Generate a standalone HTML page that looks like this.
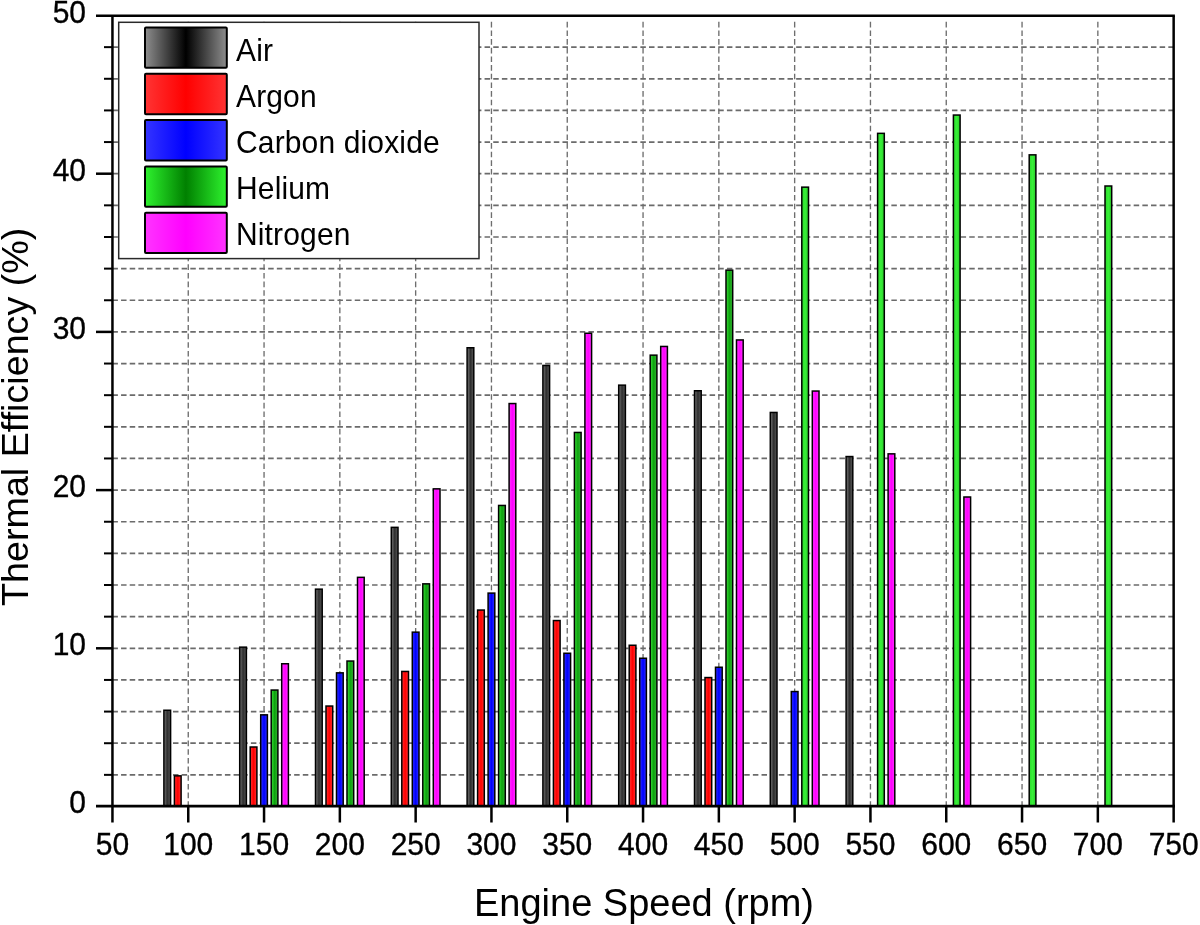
<!DOCTYPE html>
<html><head><meta charset="utf-8"><style>
html,body{margin:0;padding:0;background:#fff;}
body{width:1200px;height:925px;overflow:hidden;}
svg{display:block;will-change:transform;}
text{font-family:"Liberation Sans",sans-serif;fill:#000;}
</style></head><body>
<svg width="1200" height="925" viewBox="0 0 1200 925">
<defs>
<linearGradient id="gair" x1="0" y1="0" x2="1" y2="0"><stop offset="0" stop-color="#8e8e8e"/><stop offset="0.5" stop-color="#000000"/><stop offset="1" stop-color="#8e8e8e"/></linearGradient>
<linearGradient id="gar" x1="0" y1="0" x2="1" y2="0"><stop offset="0" stop-color="#ff3434"/><stop offset="0.5" stop-color="#ff0000"/><stop offset="1" stop-color="#ff3434"/></linearGradient>
<linearGradient id="gco2" x1="0" y1="0" x2="1" y2="0"><stop offset="0" stop-color="#3434ff"/><stop offset="0.5" stop-color="#0000ff"/><stop offset="1" stop-color="#3434ff"/></linearGradient>
<linearGradient id="ghe" x1="0" y1="0" x2="1" y2="0"><stop offset="0" stop-color="#2ef22e"/><stop offset="0.5" stop-color="#008000"/><stop offset="1" stop-color="#2ef22e"/></linearGradient>
<linearGradient id="gn2" x1="0" y1="0" x2="1" y2="0"><stop offset="0" stop-color="#ff34ff"/><stop offset="0.5" stop-color="#ff00ff"/><stop offset="1" stop-color="#ff34ff"/></linearGradient>
<linearGradient id="ghe2" x1="0" y1="0" x2="1" y2="0"><stop offset="0" stop-color="#2cd82c"/><stop offset="0.5" stop-color="#38f038"/><stop offset="1" stop-color="#2ac82a"/></linearGradient>
<linearGradient id="ghe1" x1="0" y1="0" x2="1" y2="0"><stop offset="0" stop-color="#3ce03c"/><stop offset="0.5" stop-color="#0ea40e"/><stop offset="1" stop-color="#36b036"/></linearGradient>
<linearGradient id="gairb" x1="0" y1="0" x2="1" y2="0"><stop offset="0" stop-color="#7a7a7a"/><stop offset="0.5" stop-color="#2e2e2e"/><stop offset="1" stop-color="#5a5a5a"/></linearGradient>
</defs>
<rect x="0" y="0" width="1200" height="925" fill="#fff"/>
<g stroke="#6b6b6b" stroke-width="1.7" stroke-dasharray="5.5 3.155" fill="none"><line x1="112.4" y1="774.86" x2="1173.65" y2="774.86"/><line x1="112.4" y1="743.22" x2="1173.65" y2="743.22"/><line x1="112.4" y1="711.58" x2="1173.65" y2="711.58"/><line x1="112.4" y1="679.94" x2="1173.65" y2="679.94"/><line x1="112.4" y1="648.30" x2="1173.65" y2="648.30"/><line x1="112.4" y1="616.66" x2="1173.65" y2="616.66"/><line x1="112.4" y1="585.02" x2="1173.65" y2="585.02"/><line x1="112.4" y1="553.38" x2="1173.65" y2="553.38"/><line x1="112.4" y1="521.74" x2="1173.65" y2="521.74"/><line x1="112.4" y1="490.10" x2="1173.65" y2="490.10"/><line x1="112.4" y1="458.46" x2="1173.65" y2="458.46"/><line x1="112.4" y1="426.82" x2="1173.65" y2="426.82"/><line x1="112.4" y1="395.18" x2="1173.65" y2="395.18"/><line x1="112.4" y1="363.54" x2="1173.65" y2="363.54"/><line x1="112.4" y1="331.90" x2="1173.65" y2="331.90"/><line x1="112.4" y1="300.26" x2="1173.65" y2="300.26"/><line x1="112.4" y1="268.62" x2="1173.65" y2="268.62"/><line x1="112.4" y1="236.98" x2="1173.65" y2="236.98"/><line x1="112.4" y1="205.34" x2="1173.65" y2="205.34"/><line x1="112.4" y1="173.70" x2="1173.65" y2="173.70"/><line x1="112.4" y1="142.06" x2="1173.65" y2="142.06"/><line x1="112.4" y1="110.42" x2="1173.65" y2="110.42"/><line x1="112.4" y1="78.78" x2="1173.65" y2="78.78"/><line x1="112.4" y1="47.14" x2="1173.65" y2="47.14"/></g>
<g stroke="#6e6e6e" stroke-width="1.35" stroke-dasharray="5.6 3.06" fill="none"><line x1="188.25" y1="21.8" x2="188.25" y2="806.00"/><line x1="264.05" y1="21.8" x2="264.05" y2="806.00"/><line x1="339.85" y1="21.8" x2="339.85" y2="806.00"/><line x1="415.65" y1="21.8" x2="415.65" y2="806.00"/><line x1="491.45" y1="21.8" x2="491.45" y2="806.00"/><line x1="567.25" y1="21.8" x2="567.25" y2="806.00"/><line x1="643.05" y1="21.8" x2="643.05" y2="806.00"/><line x1="718.85" y1="21.8" x2="718.85" y2="806.00"/><line x1="794.65" y1="21.8" x2="794.65" y2="806.00"/><line x1="870.45" y1="21.8" x2="870.45" y2="806.00"/><line x1="946.25" y1="21.8" x2="946.25" y2="806.00"/><line x1="1022.05" y1="21.8" x2="1022.05" y2="806.00"/><line x1="1097.85" y1="21.8" x2="1097.85" y2="806.00"/></g>
<g stroke="#000" stroke-width="1.5"><rect x="163.90" y="710.25" width="6.70" height="95.75" fill="url(#gairb)"/><rect x="174.40" y="775.85" width="6.70" height="30.15" fill="url(#gar)"/><rect x="239.70" y="647.15" width="6.70" height="158.85" fill="url(#gairb)"/><rect x="250.20" y="747.00" width="6.70" height="59.00" fill="url(#gar)"/><rect x="260.70" y="714.85" width="6.70" height="91.15" fill="url(#gco2)"/><rect x="271.20" y="690.05" width="6.70" height="115.95" fill="url(#ghe1)"/><rect x="281.70" y="663.75" width="6.70" height="142.25" fill="url(#gn2)"/><rect x="315.50" y="589.15" width="6.70" height="216.85" fill="url(#gairb)"/><rect x="326.00" y="706.05" width="6.70" height="99.95" fill="url(#gar)"/><rect x="336.50" y="672.85" width="6.70" height="133.15" fill="url(#gco2)"/><rect x="347.00" y="661.05" width="6.70" height="144.95" fill="url(#ghe1)"/><rect x="357.50" y="577.35" width="6.70" height="228.65" fill="url(#gn2)"/><rect x="391.30" y="527.35" width="6.70" height="278.65" fill="url(#gairb)"/><rect x="401.80" y="671.45" width="6.70" height="134.55" fill="url(#gar)"/><rect x="412.30" y="632.15" width="6.70" height="173.85" fill="url(#gco2)"/><rect x="422.80" y="583.85" width="6.70" height="222.15" fill="url(#ghe1)"/><rect x="433.30" y="488.85" width="6.70" height="317.15" fill="url(#gn2)"/><rect x="467.10" y="347.75" width="6.70" height="458.25" fill="url(#gairb)"/><rect x="477.60" y="610.05" width="6.70" height="195.95" fill="url(#gar)"/><rect x="488.10" y="593.10" width="6.70" height="212.90" fill="url(#gco2)"/><rect x="498.60" y="505.45" width="6.70" height="300.55" fill="url(#ghe1)"/><rect x="509.10" y="403.55" width="6.70" height="402.45" fill="url(#gn2)"/><rect x="542.90" y="365.45" width="6.70" height="440.55" fill="url(#gairb)"/><rect x="553.40" y="620.55" width="6.70" height="185.45" fill="url(#gar)"/><rect x="563.90" y="653.25" width="6.70" height="152.75" fill="url(#gco2)"/><rect x="574.40" y="432.45" width="6.70" height="373.55" fill="url(#ghe1)"/><rect x="584.90" y="333.25" width="6.70" height="472.75" fill="url(#gn2)"/><rect x="618.70" y="385.15" width="6.70" height="420.85" fill="url(#gairb)"/><rect x="629.20" y="645.25" width="6.70" height="160.75" fill="url(#gar)"/><rect x="639.70" y="658.25" width="6.70" height="147.75" fill="url(#gco2)"/><rect x="650.20" y="355.15" width="6.70" height="450.85" fill="url(#ghe1)"/><rect x="660.70" y="346.45" width="6.70" height="459.55" fill="url(#gn2)"/><rect x="694.50" y="390.75" width="6.70" height="415.25" fill="url(#gairb)"/><rect x="705.00" y="677.55" width="6.70" height="128.45" fill="url(#gar)"/><rect x="715.50" y="667.25" width="6.70" height="138.75" fill="url(#gco2)"/><rect x="726.00" y="270.15" width="6.70" height="535.85" fill="url(#ghe1)"/><rect x="736.50" y="339.95" width="6.70" height="466.05" fill="url(#gn2)"/><rect x="770.30" y="412.45" width="6.70" height="393.55" fill="url(#gairb)"/><rect x="791.30" y="691.55" width="6.70" height="114.45" fill="url(#gco2)"/><rect x="801.80" y="187.15" width="6.70" height="618.85" fill="url(#ghe2)"/><rect x="812.30" y="391.05" width="6.70" height="414.95" fill="url(#gn2)"/><rect x="846.10" y="456.55" width="6.70" height="349.45" fill="url(#gairb)"/><rect x="877.60" y="133.35" width="6.70" height="672.65" fill="url(#ghe2)"/><rect x="888.10" y="453.85" width="6.70" height="352.15" fill="url(#gn2)"/><rect x="953.40" y="115.05" width="6.70" height="690.95" fill="url(#ghe2)"/><rect x="963.90" y="497.00" width="6.70" height="309.00" fill="url(#gn2)"/><rect x="1029.20" y="154.85" width="6.70" height="651.15" fill="url(#ghe2)"/><rect x="1105.00" y="186.00" width="6.70" height="620.00" fill="url(#ghe2)"/></g>
<rect x="118.7" y="22.3" width="360.30" height="236.30" fill="#fff" stroke="#2a2a2a" stroke-width="1.5"/>
<rect x="145.00" y="27.40" width="81.80" height="40.40" rx="1" fill="url(#gair)" stroke="#000" stroke-width="2"/>
<text transform="translate(236,61.10) scale(1,1.035)" font-size="30" letter-spacing="0.15">Air</text>
<rect x="145.00" y="73.73" width="81.80" height="40.40" rx="1" fill="url(#gar)" stroke="#000" stroke-width="2"/>
<text transform="translate(236,107.10) scale(1,1.035)" font-size="30" letter-spacing="0.15">Argon</text>
<rect x="145.00" y="120.06" width="81.80" height="40.40" rx="1" fill="url(#gco2)" stroke="#000" stroke-width="2"/>
<text transform="translate(236,153.10) scale(1,1.035)" font-size="30" letter-spacing="0.15">Carbon dioxide</text>
<rect x="145.00" y="166.39" width="81.80" height="40.40" rx="1" fill="url(#ghe)" stroke="#000" stroke-width="2"/>
<text transform="translate(236,199.10) scale(1,1.035)" font-size="30" letter-spacing="0.15">Helium</text>
<rect x="145.00" y="212.72" width="81.80" height="40.40" rx="1" fill="url(#gn2)" stroke="#000" stroke-width="2"/>
<text transform="translate(236,245.10) scale(1,1.035)" font-size="30" letter-spacing="0.15">Nitrogen</text>
<g stroke="#000" fill="none"><line x1="112.45" y1="16.0" x2="112.45" y2="806.0" stroke-width="2.5"/><line x1="1173.65" y1="16.0" x2="1173.65" y2="806.0" stroke-width="2.5"/><line x1="96" y1="15.7" x2="1174.90" y2="15.7" stroke-width="2.5"/><line x1="96" y1="806.1" x2="1174.90" y2="806.1" stroke-width="2.7"/><line x1="104" y1="774.86" x2="112.45" y2="774.86" stroke-width="2"/><line x1="104" y1="743.22" x2="112.45" y2="743.22" stroke-width="2"/><line x1="104" y1="711.58" x2="112.45" y2="711.58" stroke-width="2"/><line x1="104" y1="679.94" x2="112.45" y2="679.94" stroke-width="2"/><line x1="96" y1="648.30" x2="112.45" y2="648.30" stroke-width="2.5"/><line x1="104" y1="616.66" x2="112.45" y2="616.66" stroke-width="2"/><line x1="104" y1="585.02" x2="112.45" y2="585.02" stroke-width="2"/><line x1="104" y1="553.38" x2="112.45" y2="553.38" stroke-width="2"/><line x1="104" y1="521.74" x2="112.45" y2="521.74" stroke-width="2"/><line x1="96" y1="490.10" x2="112.45" y2="490.10" stroke-width="2.5"/><line x1="104" y1="458.46" x2="112.45" y2="458.46" stroke-width="2"/><line x1="104" y1="426.82" x2="112.45" y2="426.82" stroke-width="2"/><line x1="104" y1="395.18" x2="112.45" y2="395.18" stroke-width="2"/><line x1="104" y1="363.54" x2="112.45" y2="363.54" stroke-width="2"/><line x1="96" y1="331.90" x2="112.45" y2="331.90" stroke-width="2.5"/><line x1="104" y1="300.26" x2="112.45" y2="300.26" stroke-width="2"/><line x1="104" y1="268.62" x2="112.45" y2="268.62" stroke-width="2"/><line x1="104" y1="236.98" x2="112.45" y2="236.98" stroke-width="2"/><line x1="104" y1="205.34" x2="112.45" y2="205.34" stroke-width="2"/><line x1="96" y1="173.70" x2="112.45" y2="173.70" stroke-width="2.5"/><line x1="104" y1="142.06" x2="112.45" y2="142.06" stroke-width="2"/><line x1="104" y1="110.42" x2="112.45" y2="110.42" stroke-width="2"/><line x1="104" y1="78.78" x2="112.45" y2="78.78" stroke-width="2"/><line x1="104" y1="47.14" x2="112.45" y2="47.14" stroke-width="2"/><line x1="112.45" y1="806.0" x2="112.45" y2="822.5" stroke-width="2.5"/><line x1="188.25" y1="806.0" x2="188.25" y2="822.5" stroke-width="2.5"/><line x1="264.05" y1="806.0" x2="264.05" y2="822.5" stroke-width="2.5"/><line x1="339.85" y1="806.0" x2="339.85" y2="822.5" stroke-width="2.5"/><line x1="415.65" y1="806.0" x2="415.65" y2="822.5" stroke-width="2.5"/><line x1="491.45" y1="806.0" x2="491.45" y2="822.5" stroke-width="2.5"/><line x1="567.25" y1="806.0" x2="567.25" y2="822.5" stroke-width="2.5"/><line x1="643.05" y1="806.0" x2="643.05" y2="822.5" stroke-width="2.5"/><line x1="718.85" y1="806.0" x2="718.85" y2="822.5" stroke-width="2.5"/><line x1="794.65" y1="806.0" x2="794.65" y2="822.5" stroke-width="2.5"/><line x1="870.45" y1="806.0" x2="870.45" y2="822.5" stroke-width="2.5"/><line x1="946.25" y1="806.0" x2="946.25" y2="822.5" stroke-width="2.5"/><line x1="1022.05" y1="806.0" x2="1022.05" y2="822.5" stroke-width="2.5"/><line x1="1097.85" y1="806.0" x2="1097.85" y2="822.5" stroke-width="2.5"/><line x1="1173.65" y1="806.0" x2="1173.65" y2="822.5" stroke-width="2.5"/></g>
<text transform="translate(86,813.30) scale(1,1.045)" font-size="30" text-anchor="end" stroke="#000" stroke-width="0.35">0</text><text transform="translate(86,655.30) scale(1,1.045)" font-size="30" text-anchor="end" stroke="#000" stroke-width="0.35">10</text><text transform="translate(86,497.30) scale(1,1.045)" font-size="30" text-anchor="end" stroke="#000" stroke-width="0.35">20</text><text transform="translate(86,339.30) scale(1,1.045)" font-size="30" text-anchor="end" stroke="#000" stroke-width="0.35">30</text><text transform="translate(86,181.30) scale(1,1.045)" font-size="30" text-anchor="end" stroke="#000" stroke-width="0.35">40</text><text transform="translate(86,23.30) scale(1,1.045)" font-size="30" text-anchor="end" stroke="#000" stroke-width="0.35">50</text><text transform="translate(112.45,855.2) scale(1,1.06)" font-size="30" text-anchor="middle" stroke="#000" stroke-width="0.35">50</text><text transform="translate(188.25,855.2) scale(1,1.06)" font-size="30" text-anchor="middle" stroke="#000" stroke-width="0.35">100</text><text transform="translate(264.05,855.2) scale(1,1.06)" font-size="30" text-anchor="middle" stroke="#000" stroke-width="0.35">150</text><text transform="translate(339.85,855.2) scale(1,1.06)" font-size="30" text-anchor="middle" stroke="#000" stroke-width="0.35">200</text><text transform="translate(415.65,855.2) scale(1,1.06)" font-size="30" text-anchor="middle" stroke="#000" stroke-width="0.35">250</text><text transform="translate(491.45,855.2) scale(1,1.06)" font-size="30" text-anchor="middle" stroke="#000" stroke-width="0.35">300</text><text transform="translate(567.25,855.2) scale(1,1.06)" font-size="30" text-anchor="middle" stroke="#000" stroke-width="0.35">350</text><text transform="translate(643.05,855.2) scale(1,1.06)" font-size="30" text-anchor="middle" stroke="#000" stroke-width="0.35">400</text><text transform="translate(718.85,855.2) scale(1,1.06)" font-size="30" text-anchor="middle" stroke="#000" stroke-width="0.35">450</text><text transform="translate(794.65,855.2) scale(1,1.06)" font-size="30" text-anchor="middle" stroke="#000" stroke-width="0.35">500</text><text transform="translate(870.45,855.2) scale(1,1.06)" font-size="30" text-anchor="middle" stroke="#000" stroke-width="0.35">550</text><text transform="translate(946.25,855.2) scale(1,1.06)" font-size="30" text-anchor="middle" stroke="#000" stroke-width="0.35">600</text><text transform="translate(1022.05,855.2) scale(1,1.06)" font-size="30" text-anchor="middle" stroke="#000" stroke-width="0.35">650</text><text transform="translate(1097.85,855.2) scale(1,1.06)" font-size="30" text-anchor="middle" stroke="#000" stroke-width="0.35">700</text><text transform="translate(1173.65,855.2) scale(1,1.06)" font-size="30" text-anchor="middle" stroke="#000" stroke-width="0.35">750</text>
<text x="644" y="916.3" font-size="38" text-anchor="middle">Engine Speed (rpm)</text>
<text transform="translate(28.1,416.8) rotate(-90)" x="0" y="0" font-size="37.7" text-anchor="middle">Thermal Efficiency (%)</text>
</svg></body></html>
